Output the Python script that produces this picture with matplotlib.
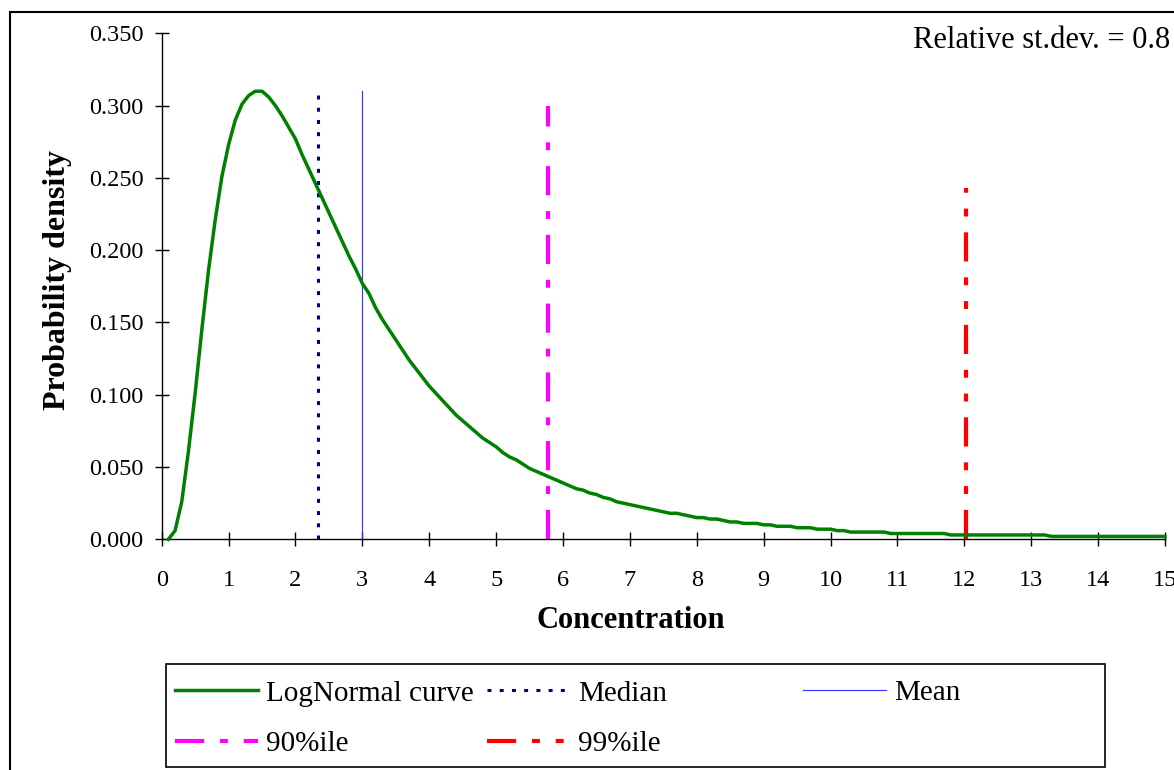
import numpy as np
import matplotlib
matplotlib.use("Agg")
import matplotlib.pyplot as plt
from matplotlib.patches import Rectangle

plt.rcParams['font.family'] = ['Liberation Serif', 'DejaVu Serif']

# ------------------------------------------------------------
# DATA
# ------------------------------------------------------------
# concentration grid: 0.1 ... 15.0 in steps of 0.1
conc = np.arange(1, 151) / 10

density = [
    # 0.1 - 1.0
    0.000, 0.006, 0.026, 0.061, 0.101, 0.145, 0.186, 0.221, 0.251, 0.273,
    # 1.1 - 2.0
    0.290, 0.301, 0.307, 0.310, 0.310, 0.306, 0.300, 0.293, 0.285, 0.277,
    # 2.1 - 3.0
    0.266, 0.256, 0.246, 0.236, 0.226, 0.216, 0.206, 0.196, 0.187, 0.177,
    # 3.1 - 4.0
    0.170, 0.160, 0.152, 0.145, 0.138, 0.131, 0.124, 0.118, 0.112, 0.106,
    # 4.1 - 5.0
    0.101, 0.096, 0.091, 0.086, 0.082, 0.078, 0.074, 0.070, 0.067, 0.064,
    # 5.1 - 6.0
    0.060, 0.057, 0.055, 0.052, 0.049, 0.047, 0.045, 0.043, 0.041, 0.039,
    # 6.1 - 7.0
    0.037, 0.035, 0.034, 0.032, 0.031, 0.029, 0.028, 0.026, 0.025, 0.024,
    # 7.1 - 8.0
    0.023, 0.022, 0.021, 0.020, 0.019, 0.018, 0.018, 0.017, 0.016, 0.015,
    # 8.1 - 9.0
    0.015, 0.014, 0.014, 0.013, 0.012, 0.012, 0.011, 0.011, 0.011, 0.010,
    # 9.1 - 10.0
    0.010, 0.009, 0.009, 0.009, 0.008, 0.008, 0.008, 0.007, 0.007, 0.007,
    # 10.1 - 11.0
    0.006, 0.006, 0.005, 0.005, 0.005, 0.005, 0.005, 0.005, 0.004, 0.004,
    # 11.1 - 12.0
    0.004, 0.004, 0.004, 0.004, 0.004, 0.004, 0.004, 0.003, 0.003, 0.003,
    # 12.1 - 13.0
    0.003, 0.003, 0.003, 0.003, 0.003, 0.003, 0.003, 0.003, 0.003, 0.003,
    # 13.1 - 14.0
    0.003, 0.003, 0.002, 0.002, 0.002, 0.002, 0.002, 0.002, 0.002, 0.002,
    # 14.1 - 15.0
    0.002, 0.002, 0.002, 0.002, 0.002, 0.002, 0.002, 0.002, 0.002, 0.002,
]

# vertical marker lines: position and height
ref_names = ["Median", "Mean", "90%ile", "99%ile"]
ref_x = [2.34, 3.00, 5.77, 12.03]
ref_top = [0.310, 0.310, 0.300, 0.243]

x_ticks = list(range(0, 16))
y_ticks = [0.000, 0.050, 0.100, 0.150, 0.200, 0.250, 0.300, 0.350]

annotation = "Relative st.dev. = 0.8"

# ------------------------------------------------------------
# FIGURE
# ------------------------------------------------------------
W, H = 1174, 770
fig = plt.figure(figsize=(W / 100, H / 100), dpi=100, facecolor='white')


def fx(px):
    return px / W


def fy(py):
    return 1 - py / H


x0_px, x1_px = 161.7, 1165.0
y0_px, y1_px = 539.3, 33.4
ax = fig.add_axes([fx(x0_px), fy(y0_px), fx(x1_px) - fx(x0_px), fy(y1_px) - fy(y0_px)])

curve, = ax.plot(conc, density, color='#008000', lw=2.5, label='LogNormal curve',
                 solid_joinstyle='round', clip_on=False, zorder=3)

styles = {
    "Median": dict(color='#000080', lw=2.2, dashes=(1.3, 2.7)),
    "Mean":   dict(color='#3030ff', lw=0.8),
    "90%ile": dict(color='#ff00ff', lw=3.0, dashes=(7.0, 3.8, 1.9, 3.8)),
    "99%ile": dict(color='#ff0000', lw=3.0, dashes=(7.0, 3.8, 1.9, 3.8, 1.9, 3.8)),
}
ref_lines = {}
for name, xv, top in zip(ref_names, ref_x, ref_top):
    ln, = ax.plot([xv, xv], [0, top], label=name, zorder=2, **styles[name])
    ref_lines[name] = ln

ax.set_xlim(0, 15)
ax.set_ylim(0, 0.35)
ax.set_xticks(x_ticks)
ax.set_xticklabels([str(t) for t in x_ticks])
ax.set_yticks(y_ticks)
ax.set_yticklabels([f"{t:.3f}" for t in y_ticks])

ax.spines[['top', 'right']].set_visible(False)
for s in ['left', 'bottom']:
    ax.spines[s].set_linewidth(1.0)
    ax.spines[s].set_color('black')
ax.tick_params(axis='both', direction='inout', length=10, width=1.0, labelsize=17.5)
ax.tick_params(axis='y', pad=8)
ax.tick_params(axis='x', pad=17)

ax.set_xlabel("Concentration", fontsize=22, fontweight='bold')
ax.xaxis.set_label_coords((631 - x0_px) / (x1_px - x0_px), (y0_px - 620) / (y0_px - y1_px))
ax.xaxis.label.set_va('center')
ax.set_ylabel("Probability density", fontsize=23, fontweight='bold')
ax.yaxis.set_label_coords((57 - x0_px) / (x1_px - x0_px), (y0_px - 280) / (y0_px - y1_px))
ax.yaxis.label.set_va('center')
ax.yaxis.label.set_ha('center')

fig.text(fx(1170), fy(41), annotation, fontsize=22, ha='right', va='center')

# legend: three column blocks inside one frame (Excel style spacing)
leg_kw = dict(frameon=False, borderpad=0, borderaxespad=0, handlelength=2.85,
              handletextpad=0.27, labelspacing=0.82, fontsize=21, loc='center left')
fig.legend(handles=[curve, ref_lines["90%ile"]], labels=["LogNormal curve", "90%ile"],
           bbox_to_anchor=(fx(175), fy(718.5)), **leg_kw)
fig.legend(handles=[ref_lines["Median"], ref_lines["99%ile"]], labels=["Median", "99%ile"],
           bbox_to_anchor=(fx(487), fy(718.5)), **leg_kw)
fig.legend(handles=[ref_lines["Mean"]], labels=["Mean"],
           bbox_to_anchor=(fx(803), fy(693)), **leg_kw)

fig.patches.append(Rectangle((fx(166), fy(767)), fx(1105) - fx(166), fy(664) - fy(767),
                             transform=fig.transFigure, fill=False, lw=1.2, ec='black'))
# outer chart border (runs off the right and bottom edges)
fig.patches.append(Rectangle((fx(10), -0.05), 1.2, fy(12) + 0.05,
                             transform=fig.transFigure, fill=False, lw=1.5, ec='black'))

fig.savefig("out.png", dpi=100)
plt.close(fig)
